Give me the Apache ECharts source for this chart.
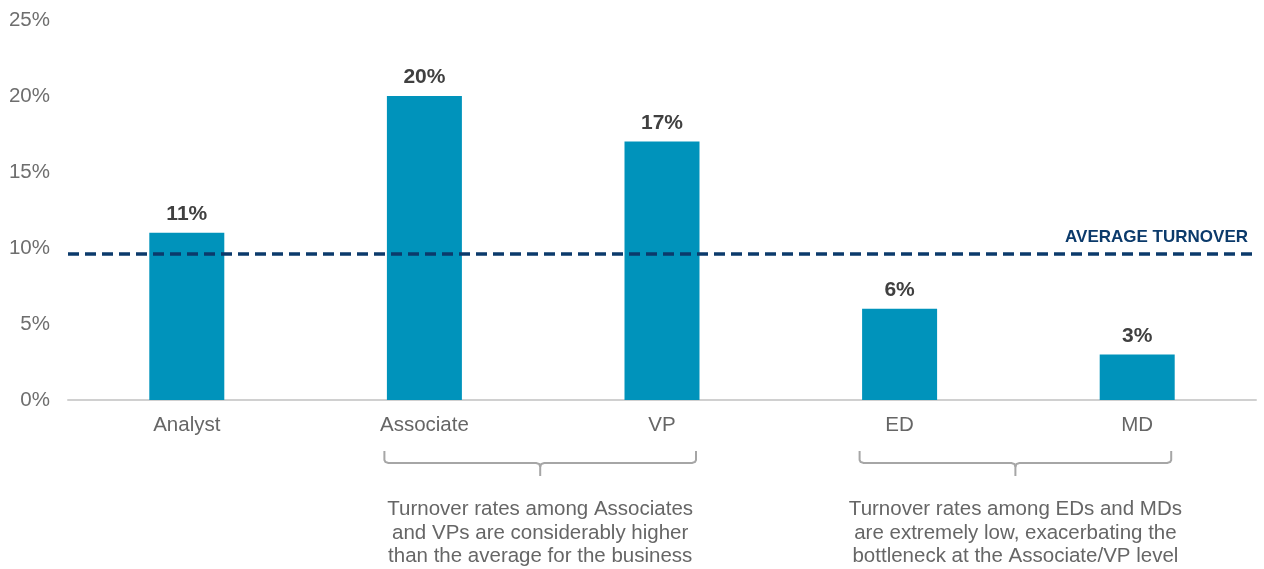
<!DOCTYPE html>
<html>
<head>
<meta charset="utf-8">
<script src="https://cdn.jsdelivr.net/npm/echarts@6/dist/echarts.min.js"></script>
<style>
  html, body { margin: 0; padding: 0; background: #fff; }
  #chart { width: 1264px; height: 569px; }
</style>
</head>
<body>
<div id="chart"></div>
<script>
// data
const levels = ['Analyst', 'Associate', 'VP', 'ED', 'MD']
const turnover = [11, 20, 17, 6, 3]
const averageTurnover = 9.6
const notes = [
  { from: 'Associate', to: 'VP', text: 'Turnover rates among Associates\nand VPs are considerably higher\nthan the average for the business' },
  { from: 'ED', to: 'MD', text: 'Turnover rates among EDs and MDs\nare extremely low, exacerbating the\nbottleneck at the Associate/VP level' }
]

const font = '"Liberation Sans", Arial, Helvetica, sans-serif'
const chart = echarts.init(document.getElementById('chart'))

chart.setOption({
  animation: false,
  grid: { left: 68, right: 8, top: 20, bottom: 169 },
  xAxis: {
    type: 'category',
    data: levels,
    axisTick: { show: false },
    axisLine: { lineStyle: { color: '#d0d0d0', width: 2 } },
    axisLabel: { color: '#666', fontSize: 20.5, fontFamily: font, margin: 15 }
  },
  yAxis: {
    type: 'value',
    min: 0,
    max: 25,
    interval: 5,
    splitLine: { show: false },
    axisLabel: { color: '#6e6e6e', fontSize: 20.5, fontFamily: font, margin: 18, formatter: '{value}%' }
  },
  series: [
    {
      type: 'bar',
      data: turnover,
      barWidth: 75,
      itemStyle: { color: '#0093BB' },
      label: {
        show: true,
        position: 'top',
        distance: 8,
        formatter: '{c}%',
        color: '#404040',
        fontWeight: 'bold',
        fontSize: 21,
        fontFamily: font
      },
      markLine: {
        silent: true,
        symbol: 'none',
        lineStyle: { color: '#0B3A6B', width: 3.5, type: [11, 6] },
        label: {
          position: 'insideEndTop',
          formatter: 'AVERAGE TURNOVER',
          color: '#0B3A6B',
          fontWeight: 'bold',
          fontSize: 17,
          fontFamily: font,
          distance: 8
        },
        data: [{ yAxis: averageTurnover }]
      }
    }
  ]
})

// brackets + notes under the axis, placed from the category positions
function drawNotes(){
  const els = []
  notes.forEach((n) => {
    const l = chart.convertToPixel({ xAxisIndex: 0 }, n.from) - 40
    const r = chart.convertToPixel({ xAxisIndex: 0 }, n.to) + 34
    const c = (l + r) / 2
    const top = 451, mid = 463, bot = 476
    const stroke = { stroke: '#a6a6a6', lineWidth: 2, fill: null }
    els.push({
      type: 'polyline',
      shape: { points: [[l, top], [l, mid - 3], [l + 1, mid - 1], [l + 4, mid], [c - 4, mid], [c - 1, mid + 1], [c, mid + 4], [c, bot]] },
      style: stroke
    })
    els.push({
      type: 'polyline',
      shape: { points: [[r, top], [r, mid - 3], [r - 1, mid - 1], [r - 4, mid], [c + 4, mid], [c + 1, mid + 1], [c, mid + 4]] },
      style: stroke
    })
    els.push({
      type: 'text',
      x: c,
      y: 498,
      style: {
        text: n.text,
        align: 'center',
        fill: '#666',
        fontSize: 20.5,
        lineHeight: 23.5,
        fontFamily: font
      }
    })
  })
  chart.setOption({ graphic: els })
}
drawNotes()
</script>
</body>
</html>
